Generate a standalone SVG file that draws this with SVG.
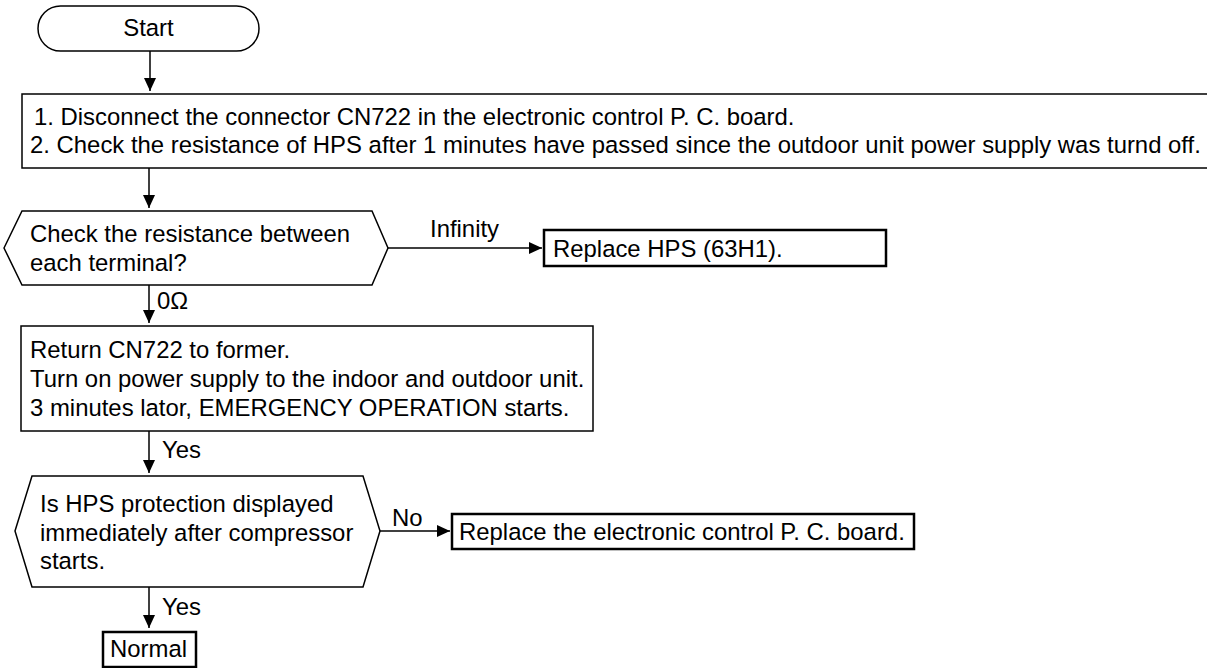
<svg xmlns="http://www.w3.org/2000/svg" width="1207" height="668" viewBox="0 0 1207 668">
<style>
text{font-family:"Liberation Sans",Arial,sans-serif;font-size:23.9px;fill:#000}
.shape{fill:#fff;stroke:#000;stroke-width:1.5}
.res{fill:#fff;stroke:#000;stroke-width:2.5}
.conn{stroke:#000;stroke-width:1.5;fill:none}
</style>
<defs>
<marker id="ah" markerWidth="13" markerHeight="12" refX="13" refY="6" orient="auto" markerUnits="userSpaceOnUse">
<path d="M0,0 L13,6 L0,12 Z" fill="#000"/>
</marker>
</defs>
<rect width="1207" height="668" fill="#fff"/>
<g id="connectors">
<line class="conn" x1="150" y1="51" x2="150" y2="91" marker-end="url(#ah)"/>
<line class="conn" x1="149" y1="168" x2="149" y2="208" marker-end="url(#ah)"/>
<line class="conn" x1="388" y1="248" x2="542" y2="248" marker-end="url(#ah)"/>
<text x="430" y="237">Infinity</text>
<line class="conn" x1="149" y1="285" x2="149" y2="323" marker-end="url(#ah)"/>
<text x="157" y="309">0Ω</text>
<line class="conn" x1="149" y1="431" x2="149" y2="473" marker-end="url(#ah)"/>
<text x="162" y="458">Yes</text>
<line class="conn" x1="380" y1="531" x2="450" y2="531" marker-end="url(#ah)"/>
<text x="392" y="526">No</text>
<line class="conn" x1="149" y1="587" x2="149" y2="628" marker-end="url(#ah)"/>
<text x="162" y="615">Yes</text>
</g>
<g id="start">
<rect class="shape" x="38" y="6" width="221" height="45" rx="22.5" ry="22.5"/>
<text x="148.5" y="36" text-anchor="middle">Start</text>
</g>
<g id="step1">
<rect class="shape" x="22" y="94" width="1200" height="74"/>
<text x="34" y="125">1. Disconnect the connector CN722 in the electronic control P. C. board.</text>
<text x="30" y="153">2. Check the resistance of HPS after 1 minutes have passed since the outdoor unit power supply was turnd off.</text>
</g>
<g id="decision1">
<polygon class="shape" points="4,248 22,211 372,211 388,248 372,285 22,285"/>
<text x="30" y="242">Check the resistance between</text>
<text x="30" y="271">each terminal?</text>
</g>
<g id="replace-hps">
<rect class="res" x="544" y="230" width="342" height="36"/>
<text x="553" y="257">Replace HPS (63H1).</text>
</g>
<g id="step2">
<rect class="shape" x="21" y="326" width="572" height="105"/>
<text x="30" y="358">Return CN722 to former.</text>
<text x="30" y="387">Turn on power supply to the indoor and outdoor unit.</text>
<text x="30" y="416">3 minutes lator, EMERGENCY OPERATION starts.</text>
</g>
<g id="decision2">
<polygon class="shape" points="15,531 32,476 363,476 380,531 363,587 32,587"/>
<text x="40" y="512">Is HPS protection displayed</text>
<text x="40" y="541">immediately after compressor</text>
<text x="40" y="569">starts.</text>
</g>
<g id="replace-pcb">
<rect class="res" x="452" y="514" width="462" height="35"/>
<text x="459" y="540">Replace the electronic control P. C. board.</text>
</g>
<g id="normal">
<rect class="res" x="103" y="632" width="93" height="35"/>
<text x="110" y="657">Normal</text>
</g>
</svg>
